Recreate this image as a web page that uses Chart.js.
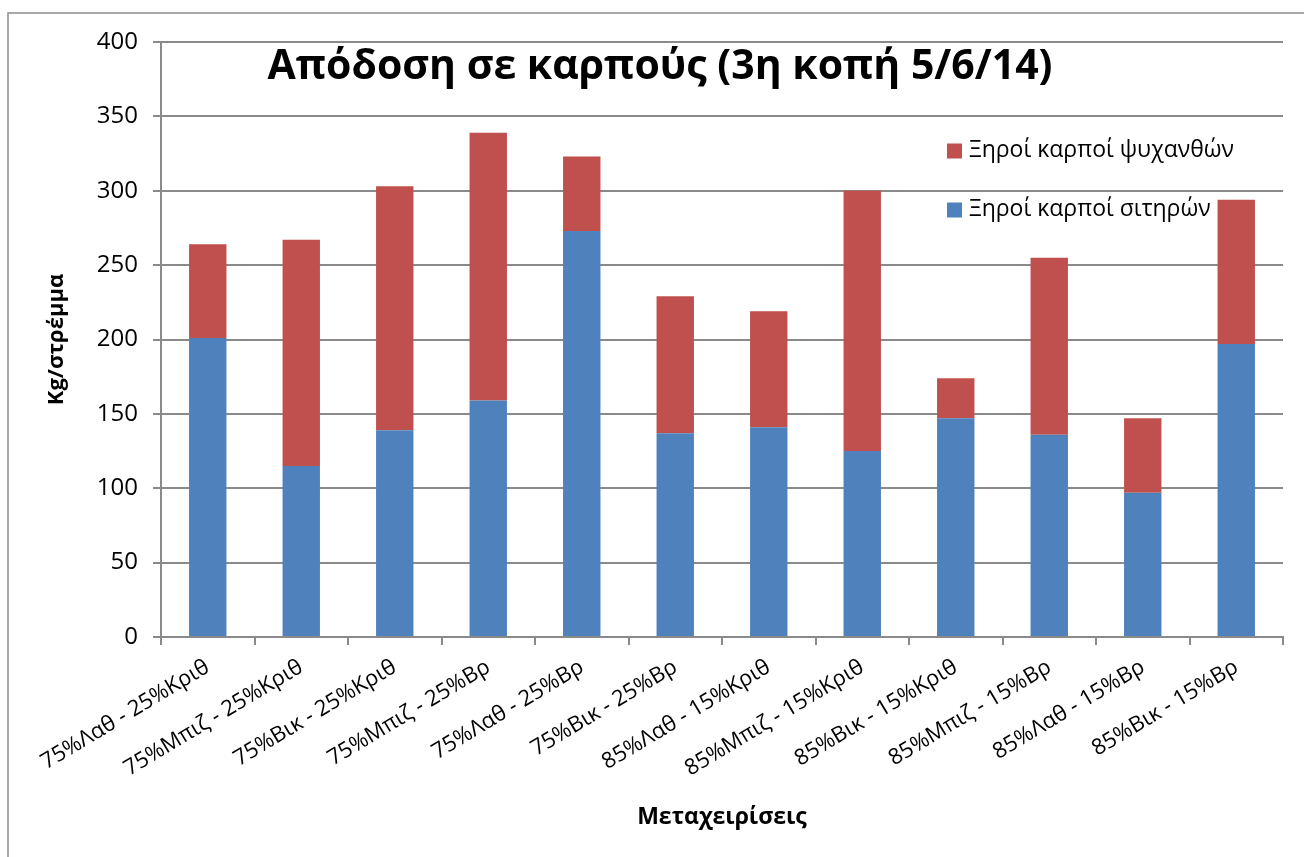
<!DOCTYPE html>
<html>
<head>
<meta charset="utf-8">
<script src="https://cdn.jsdelivr.net/npm/chart.js@4/dist/chart.umd.min.js"></script>
<style>
  body { margin: 0; background: #fff; }
  canvas { display: block; }
</style>
</head>
<body>
<canvas id="myChart" width="1304" height="857"></canvas>
<script>
// treatments (x axis)
var categories = [
  "75%Λαθ - 25%Κριθ", "75%Μπιζ - 25%Κριθ", "75%Βικ - 25%Κριθ", "75%Μπιζ - 25%Βρ",
  "75%Λαθ - 25%Βρ", "75%Βικ - 25%Βρ", "85%Λαθ - 15%Κριθ", "85%Μπιζ - 15%Κριθ",
  "85%Βικ - 15%Κριθ", "85%Μπιζ - 15%Βρ", "85%Λαθ - 15%Βρ", "85%Βικ - 15%Βρ"
];
// kg per stremma
var cereals = [201, 115, 139, 159, 273, 137, 141, 125, 147, 136, 97, 197];
var legumes = [63, 152, 164, 180, 50, 92, 78, 175, 27, 119, 50, 97];
var yTicks = [0, 50, 100, 150, 200, 250, 300, 350, 400];

var chartTitle = "Απόδοση σε καρπούς (3η κοπή 5/6/14)";
var yTitle = "Kg/στρέμμα";
var xTitle = "Μεταχειρίσεις";

var font = "'Open Sans', 'Noto Sans', sans-serif";
var gridColor = "#8a8a8a";

var decor = {
  id: 'decor',
  afterDraw: function (chart) {
    var c = chart.ctx;
    c.save();
    // outer frame
    c.strokeStyle = "#8c8c8c";
    c.lineWidth = 1.5;
    c.strokeRect(8, 13, 1400, 1000);
    // title inside plot
    c.fillStyle = "#000";
    c.font = "bold 41px " + font;
    c.textAlign = "center";
    c.textBaseline = "alphabetic";
    c.fillText(chartTitle, 660, 79);
    // legend, reversed order
    var ds = chart.data.datasets.slice().reverse();
    c.font = "23px " + font;
    c.textAlign = "left";
    c.textBaseline = "middle";
    ds.forEach(function (d, i) {
      var y = 151 + i * 59;
      c.fillStyle = d.backgroundColor;
      c.fillRect(947, y - 7.5, 15, 15);
      c.fillStyle = "#000";
      c.fillText(d.label, 969, y - 1);
    });
    c.restore();
  }
};

var ctx = document.getElementById("myChart");
var myChart = new Chart(ctx, {
  type: 'bar',
  data: {
    labels: categories,
    datasets: [
      {
        label: "Ξηροί καρποί σιτηρών",
        data: cereals,
        backgroundColor: "#4F81BD",
        categoryPercentage: 1,
        barPercentage: 0.4
      },
      {
        label: "Ξηροί καρποί ψυχανθών",
        data: legumes,
        backgroundColor: "#C0504D",
        categoryPercentage: 1,
        barPercentage: 0.4
      }
    ]
  },
  options: {
    responsive: false,
    animation: false,
    layout: { padding: { left: 36, top: 42, right: 21, bottom: 26 } },
    plugins: {
      legend: { display: false },
      title: { display: false },
      tooltip: { enabled: false }
    },
    scales: {
      x: {
        stacked: true,
        afterFit: function (s) { s.height = 194; },
        grid: { drawOnChartArea: false, offset: true, color: gridColor, lineWidth: 2, tickLength: 8 },
        border: { color: gridColor, width: 2 },
        ticks: {
          color: "#000",
          font: { family: font, size: 22 },
          maxRotation: 31,
          minRotation: 31,
          autoSkip: false,
          padding: 9
        },
        title: {
          display: true,
          text: xTitle,
          color: "#000",
          font: { family: font, size: 23, weight: 'bold' },
          padding: { top: 0, bottom: 0 }
        }
      },
      y: {
        stacked: true,
        min: 0,
        max: 400,
        afterFit: function (s) { s.width = 161 - 36; },
        afterBuildTicks: function (s) { s.ticks = yTicks.map(function (v) { return { value: v }; }); },
        grid: { color: gridColor, lineWidth: 2, tickLength: 8 },
        border: { color: gridColor, width: 2 },
        ticks: {
          color: "#000",
          font: { family: font, size: 24 },
          padding: 15
        },
        title: {
          display: true,
          text: yTitle,
          color: "#000",
          font: { family: font, size: 22, weight: 'bold' },
          padding: { top: 8, bottom: 0 }
        }
      }
    }
  },
  plugins: [decor]
});
</script>
</body>
</html>
